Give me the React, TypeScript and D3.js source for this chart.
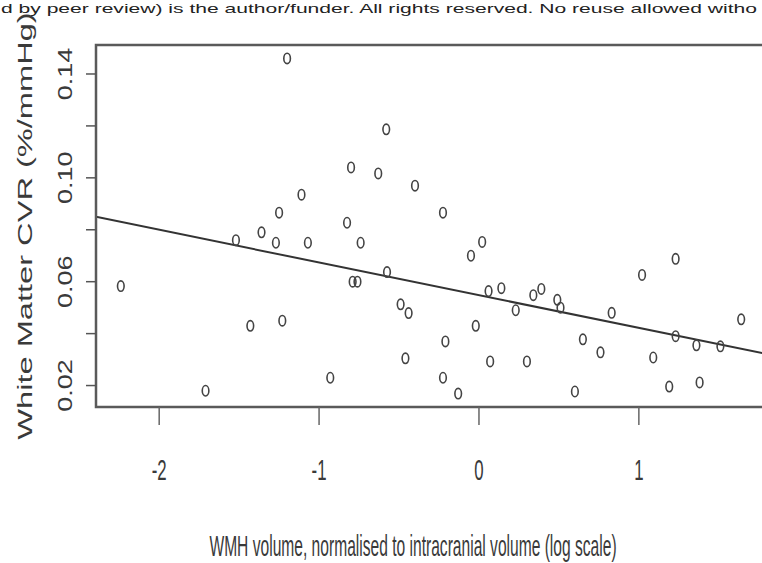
import React from 'react';
import * as d3 from 'd3';

// WMH volume (log, normalised) vs white matter CVR
const wmhVolume = [
  -2.24, -1.71, -1.52, -1.43, -1.36, -1.27, -1.25, -1.23, -1.2, -1.11,
  -1.07, -0.93, -0.825, -0.8, -0.79, -0.76, -0.74, -0.63, -0.58, -0.575,
  -0.49, -0.46, -0.44, -0.4, -0.225, -0.21, -0.225, -0.13, -0.05, -0.02,
  0.02, 0.06, 0.07, 0.14, 0.23, 0.3, 0.34, 0.39, 0.49, 0.51,
  0.6, 0.65, 0.76, 0.83, 1.02, 1.09, 1.19, 1.23, 1.23, 1.36,
  1.38, 1.51, 1.64,
];
const whiteMatterCvr = [
  0.0583, 0.018, 0.076, 0.043, 0.079, 0.075, 0.0866, 0.045, 0.146, 0.0935,
  0.075, 0.023, 0.0827, 0.104, 0.06, 0.06, 0.075, 0.1017, 0.1187, 0.0637,
  0.0513, 0.0305, 0.0479, 0.097, 0.0866, 0.037, 0.023, 0.0169, 0.07, 0.043,
  0.0753, 0.0564, 0.0293, 0.0575, 0.049, 0.0293, 0.0548, 0.0572, 0.053, 0.05,
  0.0177, 0.0378, 0.0328, 0.048, 0.0626, 0.0308, 0.0196, 0.0688, 0.039, 0.0355,
  0.0212, 0.0351, 0.0455,
];

// fitted line as drawn in the figure
const fitIntercept = 0.0548;
const fitSlope = -0.0126;

const xTicks = [-2, -1, 0, 1];
const yTicks = [0.02, 0.04, 0.06, 0.08, 0.1, 0.12, 0.14];
const yTickLabels = ['0.02', '', '0.06', '', '0.10', '', '0.14'];

const xTitle = 'WMH volume, normalised to intracranial volume (log scale)';
const yTitle = 'White Matter CVR (%/mmHg)';
const watermark = 'd by peer review) is the author/funder. All rights reserved. No reuse allowed witho';

const width = 762;
const height = 563;
const left = 96;
const right = 766;
const top = 45;
const bottom = 407;

// R-style axis range: data extent padded by 4%
const pad = ([a, b]: number[]) => {
  const d = (b - a) * 0.04;
  return [a - d, b + d];
};

const App = () => {
  const x = d3.scaleLinear()
    .domain(pad(d3.extent(wmhVolume) as number[]))
    .range([left, right]);
  const y = d3.scaleLinear()
    .domain(pad(d3.extent(whiteMatterCvr) as number[]))
    .range([bottom, top]);

  const [x0, x1] = x.domain();
  const fitLine = d3.line<number>()
    .x(d => x(d))
    .y(d => y(fitIntercept + fitSlope * d));

  const ink = '#3a3a3a';

  return (
    <svg
      width={width}
      height={height}
      style={{ position: 'absolute', left: 0, top: 0, background: '#fff' }}
      fontFamily="'Liberation Sans', Arial, sans-serif"
    >
      <text x={1} y={13} fontSize={13} fill="#222" textLength={756} lengthAdjust="spacingAndGlyphs">
        {watermark}
      </text>

      <defs>
        <clipPath id="plot">
          <rect x={left} y={top} width={right - left} height={bottom - top} />
        </clipPath>
      </defs>

      <path
        d={fitLine([x0, x1]) || ''}
        clipPath="url(#plot)"
        fill="none"
        stroke="#333"
        strokeWidth={2}
      />

      {wmhVolume.map((v, i) => (
        <ellipse
          key={i}
          cx={x(v)}
          cy={y(whiteMatterCvr[i])}
          rx={3.3}
          ry={5.2}
          fill="none"
          stroke="#444"
          strokeWidth={1.6}
        />
      ))}

      <rect
        x={left}
        y={top}
        width={right - left}
        height={bottom - top}
        fill="none"
        stroke="#5a5a5a"
        strokeWidth={2.5}
      />

      {yTicks.map((t, i) => (
        <g key={t}>
          <line x1={left - 10} x2={left} y1={y(t)} y2={y(t)} stroke="#555" strokeWidth={1.5} />
          {yTickLabels[i] && (
            <text
              transform={`translate(72,${y(t)}) scale(0.77,1) rotate(-90)`}
              textAnchor="middle"
              fontSize={27}
              fill={ink}
            >
              {yTickLabels[i]}
            </text>
          )}
        </g>
      ))}

      {xTicks.map(t => (
        <g key={t}>
          <line x1={x(t)} x2={x(t)} y1={bottom} y2={bottom + 18} stroke="#666" strokeWidth={1.5} />
          <text
            transform={`translate(${x(t)},480) scale(0.56,1)`}
            textAnchor="middle"
            fontSize={30}
            fill={ink}
          >
            {t}
          </text>
        </g>
      ))}

      <text
        transform="translate(413,556) scale(0.52,1)"
        textAnchor="middle"
        fontSize={30}
        fill={ink}
      >
        {xTitle}
      </text>

      <text
        transform={`translate(32,${(top + bottom) / 2}) scale(0.64,1) rotate(-90)`}
        textAnchor="middle"
        fontSize={32.6}
        fill={ink}
      >
        {yTitle}
      </text>
    </svg>
  );
};

export default App;
